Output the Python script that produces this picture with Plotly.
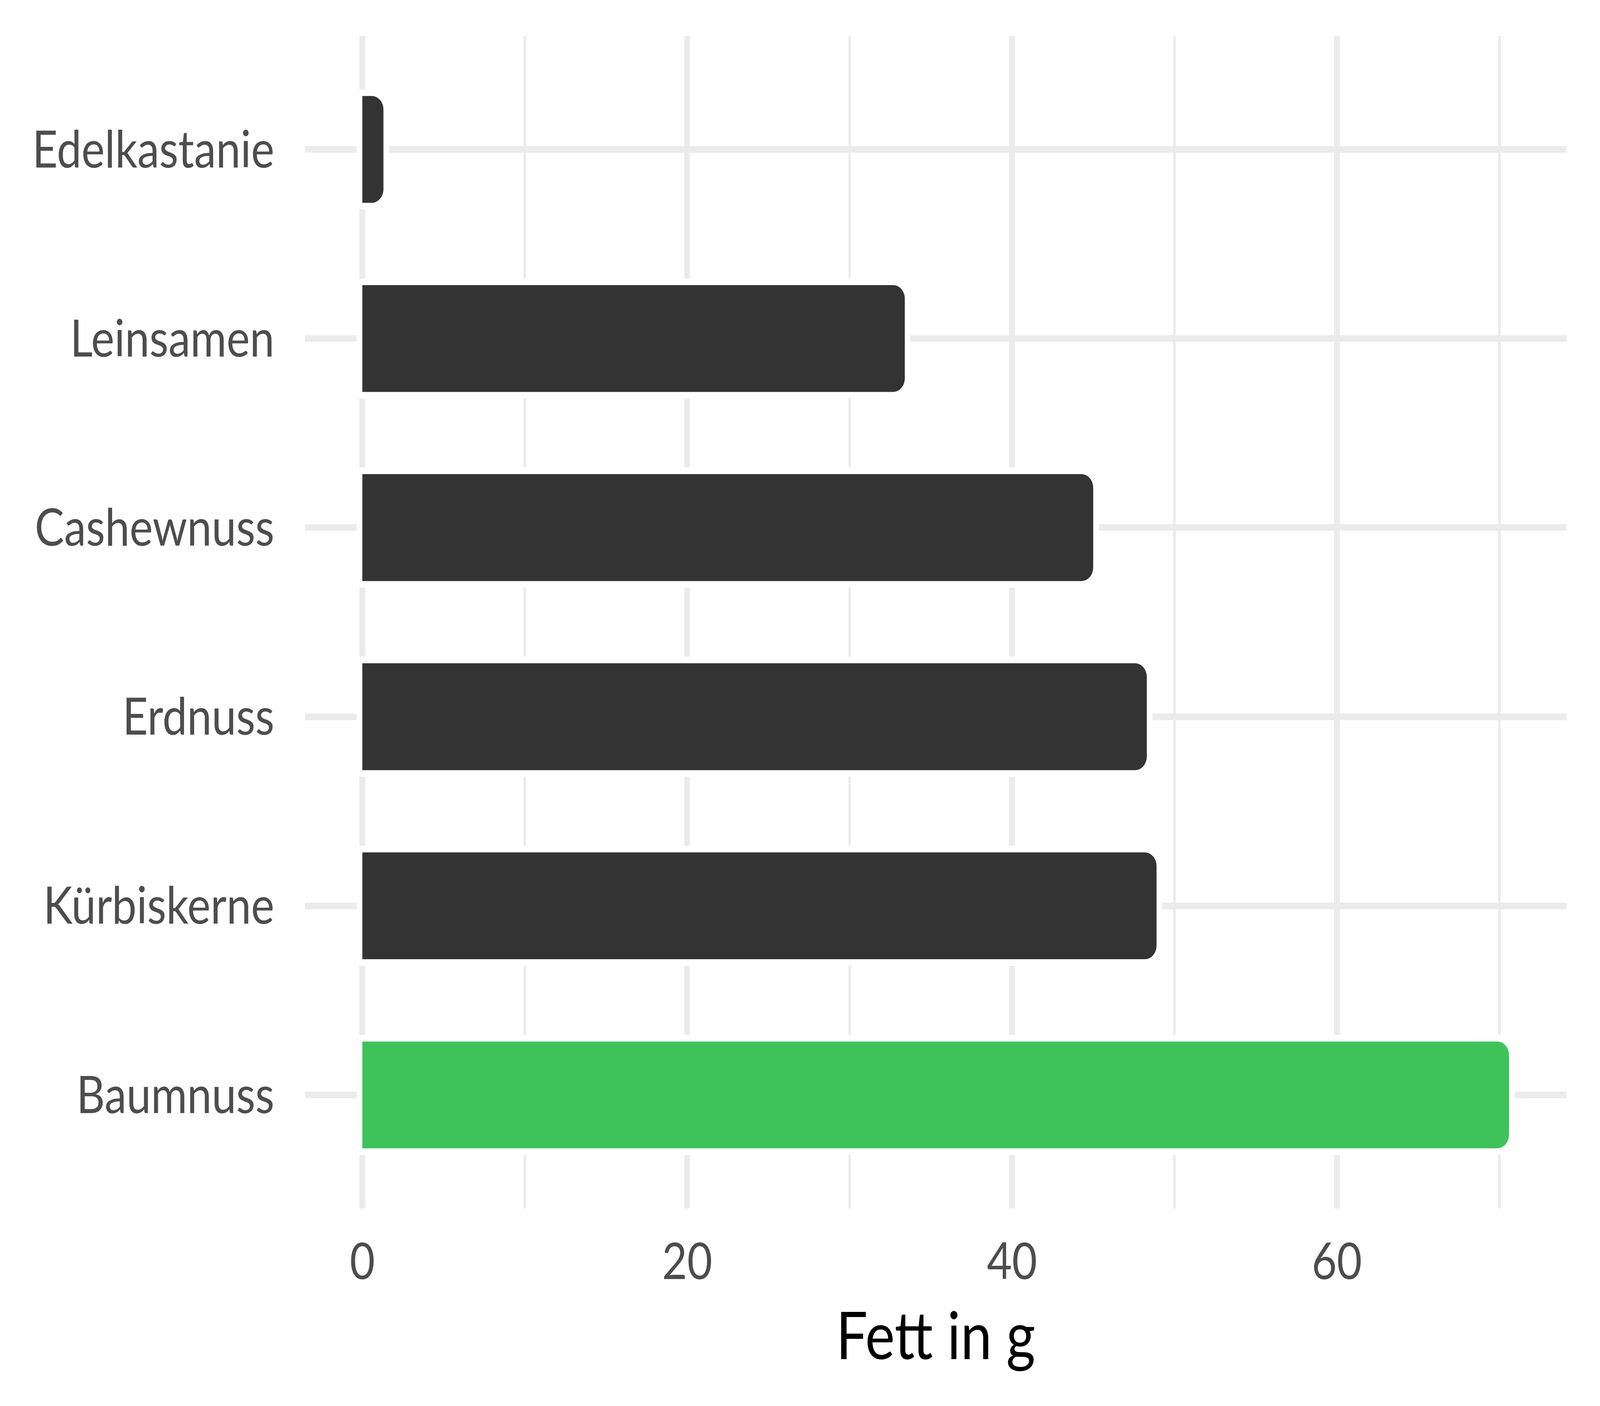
import plotly.graph_objects as go

foods = ["Edelkastanie", "Leinsamen", "Cashewnuss", "Erdnuss", "Kürbiskerne", "Baumnuss"]
fat_g = [1.3, 33.4, 45.0, 48.3, 48.9, 70.6]
bar_colors = ["#333333", "#333333", "#333333", "#333333", "#333333", "#3ec35a"]
x_ticks = [0, 20, 40, 60]
x_title = "Fett in g"

FONT = "Lato, Carlito, Calibri, sans-serif"
W, H = 4800, 3600

fig = go.Figure()

# white halo behind bars (cuts the grid lines around each bar)
fig.add_trace(go.Bar(
    x=fat_g, y=foods, orientation="h", width=0.565,
    marker=dict(color="white", line=dict(color="white", width=34), cornerradius=35),
    hoverinfo="skip", showlegend=False,
))
fig.add_trace(go.Bar(
    x=fat_g, y=foods, orientation="h", width=0.565,
    marker=dict(color=bar_colors, line=dict(width=0), cornerradius=35),
    showlegend=False,
))

fig.update_layout(
    width=W, height=H,
    barmode="overlay",
    paper_bgcolor="white", plot_bgcolor="white",
    margin=dict(l=915, r=101, t=92, b=506, autoexpand=False),
    font=dict(family=FONT, color="#4d4d4d"),
)

fig.update_xaxes(
    range=[-3.53, 74.13],
    tickvals=x_ticks, ticktext=[str(v) for v in x_ticks],
    showgrid=True, gridcolor="#ebebeb", gridwidth=17,
    minor=dict(tick0=0, dtick=10, showgrid=True, gridcolor="#ebebeb", gridwidth=8),
    zeroline=False, showline=False, ticks="",
    tickfont=dict(family=FONT, size=130, color="#4d4d4d"),
    ticklabelstandoff=50,
    title=dict(text=x_title, font=dict(family=FONT, size=168, color="#000000"), standoff=60),
)
fig.update_yaxes(
    categoryorder="array", categoryarray=foods,
    range=[5.6, -0.6],
    showgrid=True, gridcolor="#ebebeb", gridwidth=17,
    zeroline=False, showline=False, ticks="",
    tickfont=dict(family=FONT, size=132, color="#4d4d4d"),
    ticklabelstandoff=91,
)

# the browser viewport may be smaller than the 4800x3600 design (width is capped):
# scale the finished figure so it exactly fills the viewport
post_script = """
document.documentElement.style.margin = '0';
document.body.style.margin = '0';
document.documentElement.style.overflow = 'hidden';
document.body.style.overflow = 'hidden';
var gd = document.getElementById('{plot_id}');
var sx = Math.min(1, window.innerWidth / %d), sy = Math.min(1, window.innerHeight / %d);
if (sx < 1 || sy < 1) {
  gd.style.transformOrigin = '0 0';
  gd.style.transform = 'scale(' + sx + ',' + sy + ')';
}
""" % (W, H)

fig.write_html("out.html", post_script=post_script, config={"displayModeBar": False})
